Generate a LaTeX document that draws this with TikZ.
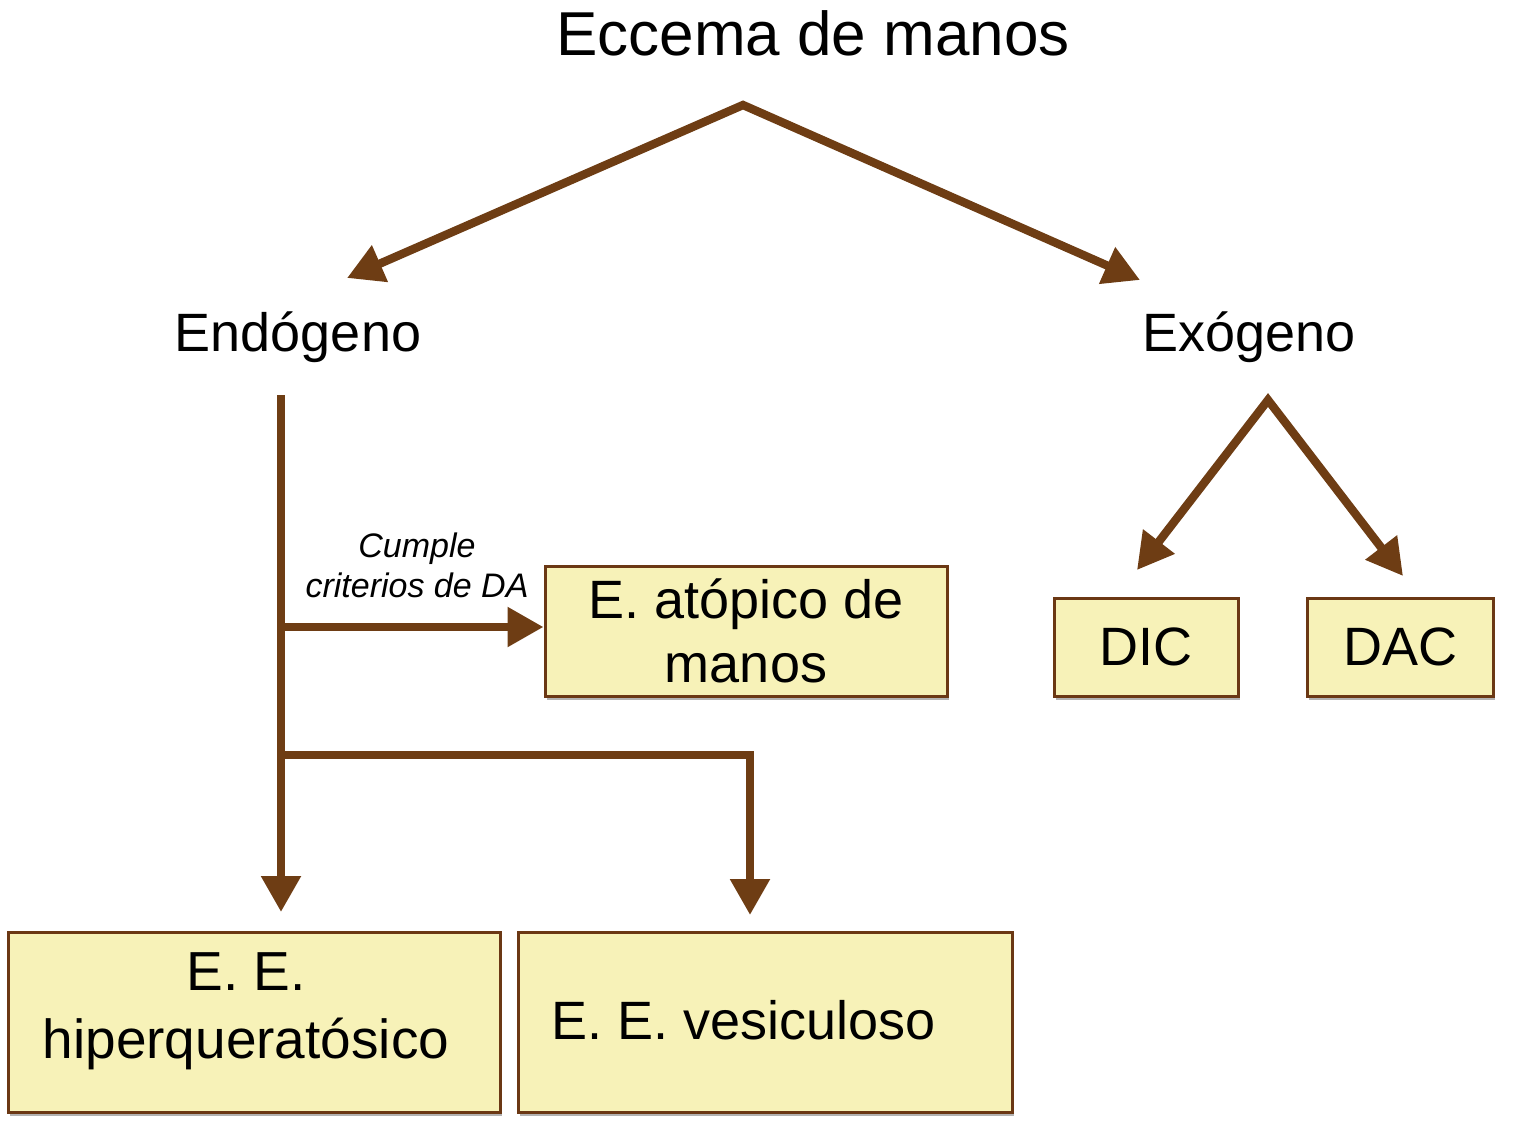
\documentclass[tikz,border=0pt]{standalone}
\usepackage{fontspec}
\setmainfont{Liberation Sans}
\usepackage{xcolor}
\definecolor{arrowBrown}{rgb}{0.43, 0.24, 0.08}
\definecolor{boxYellow}{rgb}{0.97, 0.95, 0.72}
\definecolor{boxBorder}{rgb}{0.42, 0.22, 0.08}
\usetikzlibrary{arrows.meta, shadows}

\begin{document}
\begin{tikzpicture}[x=0.5pt, y=-0.5pt,
		flow/.style={line width=4.2pt, draw=arrowBrown, line join=miter, -{Triangle[length=18pt, width=19pt]}},
		catbox/.style={draw=boxBorder, line width=1.5pt, fill=boxYellow, inner sep=0pt,
			drop shadow={shadow xshift=0.8pt, shadow yshift=-1.8pt, opacity=0.3, fill=black}},
		big/.style={font=\fontsize{27}{33}\selectfont, align=center}]
			\useasboundingbox (0,0) rectangle (1540,1126);

			% Title and the two kinds
			\node[font=\fontsize{31}{37}\selectfont] (title) at (813,33) {Eccema de manos};
			\node[big] (endo) at (298,337) {Endógeno};
			\node[big] (exo) at (1249,337) {Exógeno};

			% Boxes (now with shadow)
			\node[catbox, big, minimum width=201pt, minimum height=65pt] (atopic) at (746,631) {E. atópico de\\[-1pt]manos};
			\node[catbox, big, minimum width=92pt, minimum height=49pt] (dic) at (1146,647) {DIC};
			\node[catbox, big, minimum width=93pt, minimum height=49pt] (dac) at (1400,647) {DAC};
			\node[catbox, minimum width=246pt, minimum height=90pt] (hiperBox) at (254,1022) {};
			\node[catbox, minimum width=247pt, minimum height=90pt] (vesicBox) at (765,1022) {};
			\node[big, font=\fontsize{27.5}{33}\selectfont] (hiperText) at (246,1011) {E. E.\\[1pt]hiperqueratósico};
			\node[big, anchor=west, inner sep=0pt] (vesicText) at (551,1020) {E. E. vesiculoso};

			% Label on the branch
			\node[font=\fontsize{17}{20}\selectfont\itshape, align=center] (criteria) at (417,565) {Cumple\\criterios de DA};

			% Ends of the connectors
			\coordinate (topApex) at (743,105);
			\coordinate (endoTip) at (347,278);
			\coordinate (exoTip) at (1140,280);
			\coordinate (endoStart) at (281,395);
			\coordinate (hiperTip) at (281,912);
			\coordinate (atopicFork) at (281,627);
			\coordinate (vesicFork) at (281,755);
			\coordinate (vesicTip) at (750,915);
			\coordinate (exoApex) at (1268,400);
			\coordinate (dicTip) at (1137,570);
			\coordinate (dacTip) at (1403,576);

			% Draw mappings
			\draw[flow, {Triangle[length=18pt, width=19pt]}-{Triangle[length=18pt, width=19pt]}] (endoTip) -- (topApex) -- (exoTip);
			\draw[flow] (endoStart) -- (hiperTip);
			\draw[flow] (atopicFork) -- (atopicFork -| atopic.west);
			\draw[flow] (vesicFork) -| (vesicTip);
			\draw[flow, {Triangle[length=18pt, width=19pt]}-{Triangle[length=18pt, width=19pt]}] (dicTip) -- (exoApex) -- (dacTip);
		\end{tikzpicture}
\end{document}
